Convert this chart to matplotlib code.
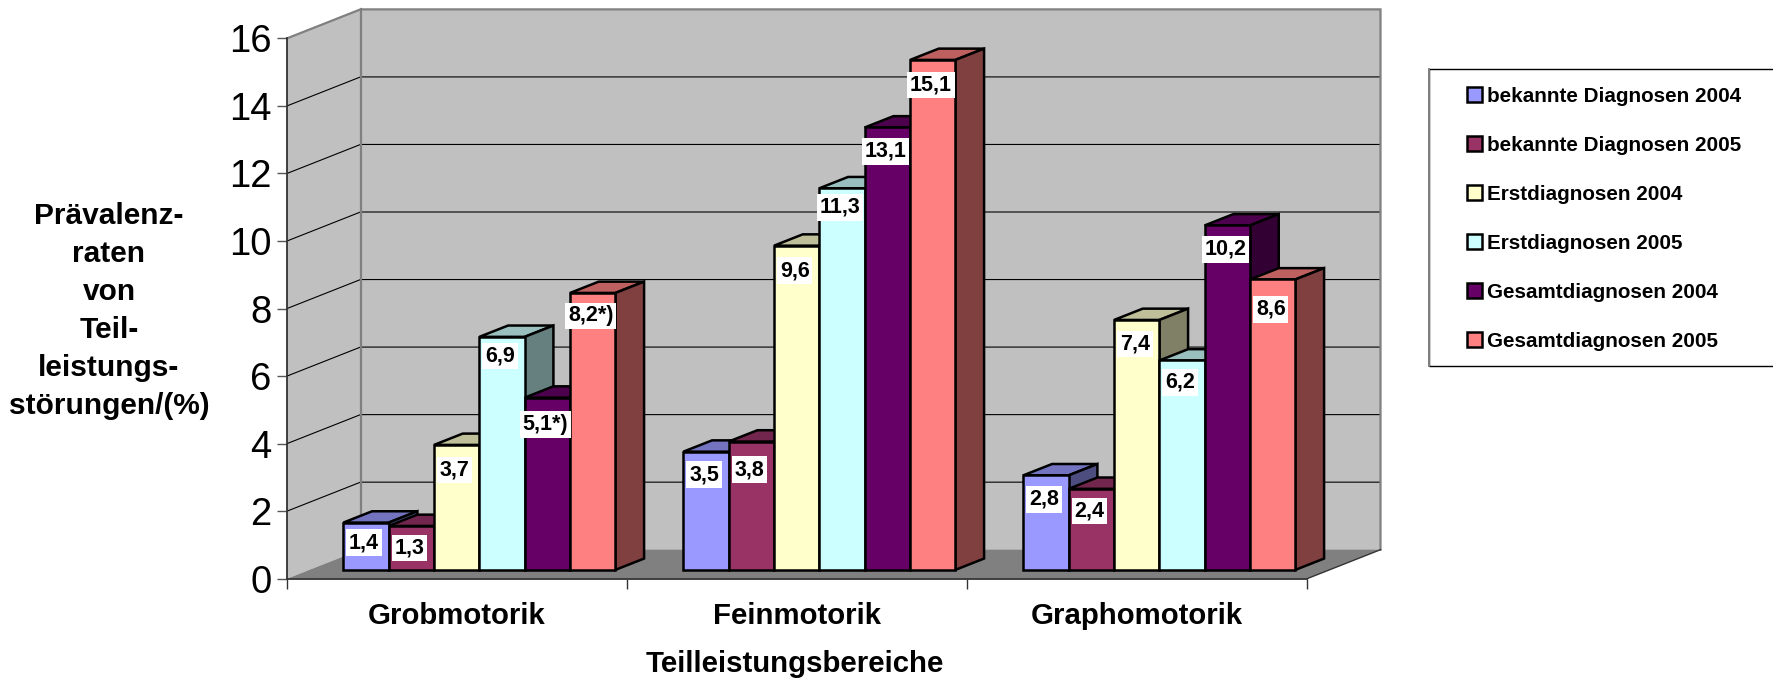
import matplotlib
matplotlib.use("Agg")
import matplotlib.pyplot as plt
from matplotlib.patches import Polygon, Patch, Rectangle

plt.rcParams['font.family'] = ['Liberation Sans', 'DejaVu Sans']

#-----------------------Data----------------------------------------------
categories = ["Grobmotorik", "Feinmotorik", "Graphomotorik"]
series_names = ["bekannte Diagnosen 2004", "bekannte Diagnosen 2005",
                "Erstdiagnosen 2004", "Erstdiagnosen 2005",
                "Gesamtdiagnosen 2004", "Gesamtdiagnosen 2005"]
bekannt_2004 = [1.4, 3.5, 2.8]
bekannt_2005 = [1.3, 3.8, 2.4]
erst_2004 = [3.7, 9.6, 7.4]
erst_2005 = [6.9, 11.3, 6.2]
gesamt_2004 = [5.1, 13.1, 10.2]
gesamt_2005 = [8.2, 15.1, 8.6]
all_series = [bekannt_2004, bekannt_2005, erst_2004, erst_2005, gesamt_2004, gesamt_2005]

# Footnote marks on two of the Grobmotorik labels
label_marks = {(4, 0): "*)", (5, 0): "*)"}
y_ticks = list(range(0, 17, 2))
#-------------------------------------------------------------------------

colors = ["#9999FF", "#993366", "#FFFFCC", "#CCFFFF", "#660066", "#FF8080"]

W, H = 1773, 682
PX_X = 340.0      # pixels per category
PX_Y = 33.77      # pixels per percent
DEPTH_X = 73.5 / PX_X   # depth of the chart box in axis units
DEPTH_Y = 29.0 / PX_Y
BAR_W = (1 - 0.2) / 6
D0, D1 = 0.305, 0.695   # depth range of the bars

# How far each label sits below the top of its bar, in pixels
label_drop = [[20, 22, 25, 19, 27, 23],
              [23, 28, 25, 19, 24, 25],
              [24, 22, 24, 22, 24, 30]]


def shade(color, k):
    r, g, b = matplotlib.colors.to_rgb(color)
    return (r * k, g * k, b * k)


def proj(x, v, d):
    """Oblique projection: depth d (0 front, 1 back) shifts a point up and right."""
    return (x + d * DEPTH_X, v + d * DEPTH_Y)


fig = plt.figure(figsize=(W / 100, H / 100), dpi=100)
ax = fig.add_axes([287 / W, (H - 578.7) / H, 3 * PX_X / W, 16 * PX_Y / H])
ax.set_xlim(0, 3)
ax.set_ylim(0, 16)
ax.patch.set_visible(False)

for s in ["top", "right"]:
    ax.spines[s].set_visible(False)
for s in ["left", "bottom"]:
    ax.spines[s].set_color("#333333")
    ax.spines[s].set_linewidth(1.3)
    ax.spines[s].set_zorder(2.5)

ax.set_yticks(y_ticks)
ax.tick_params(axis="y", labelsize=27.5, length=7.2, width=1, color="#555555", pad=4)
ax.set_xticks([0, 1, 2, 3])
ax.set_xticklabels([])
ax.tick_params(axis="x", which="major", length=7.5, width=1, color="#333333")
ax.set_xticks([0.5, 1.5, 2.5], minor=True)
ax.set_xticklabels(categories, minor=True, fontsize=21.2, fontweight="bold")
ax.tick_params(axis="x", which="minor", length=0, pad=17)

ax.set_xlabel("Teilleistungsbereiche", fontsize=21.2, fontweight="bold", va="center")
ax.xaxis.set_label_coords((795 - 287) / (3 * PX_X), (578.7 - 664) / (16 * PX_Y))
ax.set_ylabel("Prävalenz-\nraten\nvon\nTeil-\nleistungs-\nstörungen/(%)",
              rotation=0, ha="center", va="center", fontsize=21.5, fontweight="bold",
              linespacing=1.46)
ax.yaxis.set_label_coords((109 - 287) / (3 * PX_X), (578.7 - 311) / (16 * PX_Y))

#-----------------------Walls and floor-----------------------------------
wall_grey = "#C0C0C0"
border = "#808080"
side = [proj(0, 0, 0), proj(0, 16, 0), proj(0, 16, 1), proj(0, 0, 1)]
back = [proj(0, 0, 1), proj(0, 16, 1), proj(3, 16, 1), proj(3, 0, 1)]
floor = [proj(0, 0, 0), proj(3, 0, 0), proj(3, 0, 1), proj(0, 0, 1)]
ax.add_patch(Polygon(side, closed=True, fc=wall_grey, ec="none", zorder=1, clip_on=False))
ax.add_patch(Polygon(back, closed=True, fc=wall_grey, ec="none", zorder=1, clip_on=False))
ax.add_patch(Polygon(floor, closed=True, fc=border, ec="none", zorder=1.2, clip_on=False))

for v in y_ticks[1:-1]:
    gx = [proj(0, v, 0)[0], proj(0, v, 1)[0], proj(3, v, 1)[0]]
    gy = [proj(0, v, 0)[1], proj(0, v, 1)[1], proj(3, v, 1)[1]]
    ax.plot(gx, gy, color="black", lw=0.8, zorder=1.1, clip_on=False)

# Grey frame of the walls
fx = [proj(0, 16, 0)[0], proj(0, 16, 1)[0], proj(3, 16, 1)[0], proj(3, 0, 1)[0]]
fy = [proj(0, 16, 0)[1], proj(0, 16, 1)[1], proj(3, 16, 1)[1], proj(3, 0, 1)[1]]
ax.plot(fx, fy, color=border, lw=1.6, zorder=1.3, clip_on=False, solid_joinstyle="miter")
ax.plot([proj(0, 0, 1)[0], proj(0, 16, 1)[0]], [proj(0, 0, 1)[1], proj(0, 16, 1)[1]],
        color=border, lw=1.6, zorder=1.15, clip_on=False)
ax.plot([proj(3, 0, 0)[0], proj(3, 0, 1)[0]], [proj(3, 0, 0)[1], proj(3, 0, 1)[1]],
        color="#333333", lw=1.0, zorder=1.3, clip_on=False)
#-------------------------------------------------------------------------

#-----------------------Bars----------------------------------------------
z = 3
for c in range(len(categories)):
    for i, vals in enumerate(all_series):
        v = vals[c]
        x0 = c + 0.1 + i * BAR_W
        x1 = x0 + BAR_W
        top = [proj(x0, v, D0), proj(x1, v, D0), proj(x1, v, D1), proj(x0, v, D1)]
        right = [proj(x1, 0, D0), proj(x1, v, D0), proj(x1, v, D1), proj(x1, 0, D1)]
        front = [proj(x0, 0, D0), proj(x1, 0, D0), proj(x1, v, D0), proj(x0, v, D0)]
        for pts, k in ((top, 0.75), (right, 0.5), (front, 1.0)):
            ax.add_patch(Polygon(pts, closed=True, fc=shade(colors[i], k), ec="black",
                                 lw=1.8, joinstyle="miter", zorder=z, clip_on=False))
        z += 0.01

# Labels go on after all bars so neighbouring bars do not cover their boxes
for c in range(len(categories)):
    for i, vals in enumerate(all_series):
        v = vals[c]
        txt = f"{v:.1f}".replace(".", ",") + label_marks.get((i, c), "")
        lx, ly = proj(c + 0.1 + (i + 0.5) * BAR_W, v - label_drop[c][i] / PX_Y, D0)
        ax.text(lx - 2 / PX_X, ly, txt, ha="center", va="center", fontsize=15.5,
                fontweight="bold", color="black", zorder=6,
                bbox=dict(fc="white", ec="none", boxstyle="square,pad=0.13"))
#-------------------------------------------------------------------------

#-----------------------Legend--------------------------------------------
fig.add_artist(Rectangle((1428.7 / W, (H - 366) / H), (W - 1428.7 + 5) / W, 296.7 / H,
                         transform=fig.transFigure, fc="white", ec="black", lw=1))
fig.add_artist(plt.Line2D([1428.7 / W] * 2, [(H - 366) / H, (H - 69.3) / H],
                          transform=fig.transFigure, color=border, lw=1.4))
handles = [Patch(fc=col, ec="black", lw=1.8) for col in colors]
fig.legend(handles, series_names, loc="upper left",
           bbox_to_anchor=(1466.7 / W, (H - 87) / H), bbox_transform=fig.transFigure,
           frameon=False, borderpad=0, borderaxespad=0,
           prop=dict(weight="bold", size=14.9), handlelength=0.72, handleheight=0.72,
           handletextpad=0.25, labelspacing=1.45)
#-------------------------------------------------------------------------

plt.savefig("out.png", dpi=100)
